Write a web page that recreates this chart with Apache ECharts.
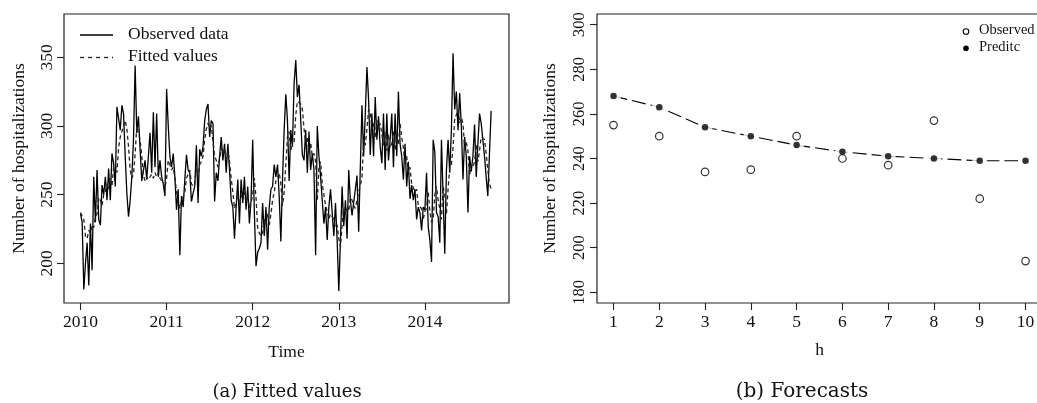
<!DOCTYPE html>
<html>
<head>
<meta charset="utf-8">
<script src="https://cdn.jsdelivr.net/npm/echarts@6/dist/echarts.min.js"></script>
<style>
html,body{margin:0;padding:0;background:#fff;}
#chart{width:1037px;height:403px;}
</style>
</head>
<body>
<div id="chart"></div>
<script>
// ---------- Panel (a): weekly data, 52 weeks per year starting 2010 ----------
const startYear = 2010;
const weeksPerYear = 52;
const obs2010 = [236,230,181,200,215,184,229,195,263,230,268,232,228,257,250,263,246,269,246,280,273,256,314,315,297,315,309,278,251,234,246,263,290,344,295,307,283,260,261,275,261,278,295,266,310,270,309,263,275,263,258,249];
const obs2011 = [327,300,278,270,280,263,239,254,206,249,241,261,279,268,266,245,251,256,286,244,283,278,285,304,312,316,292,304,302,245,266,260,278,292,275,287,266,287,268,246,241,218,241,261,229,261,244,263,239,256,229,246];
const obs2012 = [290,237,198,208,211,215,244,220,241,210,241,254,256,272,263,272,249,216,261,297,323,304,260,297,285,331,348,321,330,329,279,275,297,266,296,268,280,268,206,300,278,263,246,229,241,217,241,254,237,220,244,217];
const obs2013 = [180,217,256,227,246,218,268,246,235,235,254,264,223,270,315,278,309,343,319,279,309,278,321,290,307,285,273,309,268,309,275,290,309,270,309,278,325,287,278,261,287,256,274,247,257,246,254,232,241,237,224,241];
const obs2014 = [239,266,227,217,201,290,281,237,234,215,290,249,207,268,290,266,297,353,312,325,297,324,300,261,292,278,237,278,267,278,301,263,287,309,302,302,278,263,249,249,311];

const fit2010 = [237,236,232,220,218,224,222,228,226,234,236,248,246,242,250,252,258,254,262,256,270,272,266,284,292,292,300,304,298,285,268,262,265,280,300,295,290,278,264,260,263,261,262,265,262,266,263,266,262,262,258,255];
const fit2011 = [262,275,272,268,270,262,252,252,240,246,248,252,262,265,268,258,256,258,270,262,272,274,278,290,298,302,298,300,300,278,275,270,276,284,280,284,276,282,274,262,252,240,244,250,242,250,246,252,244,250,240,244];
const fit2012 = [250,262,248,226,222,220,222,232,228,236,228,236,246,252,260,262,266,258,242,252,272,292,296,282,290,288,308,318,318,316,312,298,288,292,280,288,278,280,274,246,270,274,258,250,242,238,232,236,236,232,226,228];
const fit2013 = [218,212,228,240,236,242,238,248,246,242,240,246,252,252,262,290,286,298,312,310,298,302,292,304,298,302,294,286,296,282,294,284,287,296,282,294,286,302,292,284,272,278,266,270,258,258,252,254,242,242,240,232];
const fit2014 = [238,240,252,238,230,232,250,256,246,240,232,256,250,236,254,270,272,284,306,308,312,302,306,302,284,288,282,264,272,270,274,286,274,282,292,292,290,280,268,258,254];

const yearTicksA = [2010,2011,2012,2013,2014];
const valueTicksA = [200,250,300,350];

// ---------- Panel (b): forecasts ----------
const horizons = [1,2,3,4,5,6,7,8,9,10];
const observedB = [255,250,234,235,250,240,237,257,222,194];
const predictedB = [268,263,254,250,246,243,241,240,239,239];
const valueTicksB = [180,200,220,240,260,280,300];

// ---------- build ----------
const obsAll = [].concat(obs2010, obs2011, obs2012, obs2013, obs2014);
const fitAll = [].concat(fit2010, fit2011, fit2012, fit2013, fit2014);
const obsData = obsAll.map((v,i)=>[startYear + i/weeksPerYear, v]);
const fitData = fitAll.map((v,i)=>[startYear + i/weeksPerYear, v]);
const predData = horizons.map((h,i)=>[h, predictedB[i]]);
const obsBData = horizons.map((h,i)=>[h, observedB[i]]);

const SERIF = "'Liberation Serif', 'Times New Roman', serif";
const axisCol = '#222';
const lab = {fontFamily: SERIF, fontSize: 17.5, color: '#111'};

const chart = echarts.init(document.getElementById('chart'), null, {renderer:'canvas'});
chart.setOption({
  animation:false,
  backgroundColor:'#fff',
  grid:[
    {left:64, top:14, width:445, height:289, show:true, borderColor:axisCol, borderWidth:1.2, containLabel:false, outerBoundsMode:'none'},
    {left:597, top:14, width:445, height:289, show:true, borderColor:axisCol, borderWidth:1.2, containLabel:false, outerBoundsMode:'none'}
  ],
  xAxis:[
    {type:'value', gridIndex:0, min:2009.8084, max:2014.9768, name:'Time', nameLocation:'middle', nameGap:40,
     nameTextStyle:lab, axisLine:{show:false}, splitLine:{show:false},
     axisTick:{show:true, inside:false, length:7, lineStyle:{color:axisCol, width:1.1}, customValues:yearTicksA},
     axisLabel:Object.assign({margin:10, customValues:yearTicksA, formatter:v=>String(Math.round(v))}, lab)},
    {type:'value', gridIndex:1, min:0.64, max:10.36, name:'h', nameLocation:'middle', nameGap:38,
     nameTextStyle:lab, axisLine:{show:false}, splitLine:{show:false},
     axisTick:{show:true, inside:false, length:7, lineStyle:{color:axisCol, width:1.1}, customValues:horizons},
     axisLabel:Object.assign({margin:10, customValues:horizons, formatter:v=>String(Math.round(v))}, lab)}
  ],
  yAxis:[
    {type:'value', gridIndex:0, min:171.2, max:381.5, name:'Number of hospitalizations', nameLocation:'middle', nameRotate:90, nameGap:36,
     nameTextStyle:lab, axisLine:{show:false}, splitLine:{show:false},
     axisTick:{show:true, inside:false, length:7, lineStyle:{color:axisCol, width:1.1}, customValues:valueTicksA},
     axisLabel:Object.assign({margin:8, rotate:90, customValues:valueTicksA, formatter:v=>String(Math.round(v))}, lab)},
    {type:'value', gridIndex:1, min:175.2, max:304.8, name:'Number of hospitalizations', nameLocation:'middle', nameRotate:90, nameGap:38,
     nameTextStyle:lab, axisLine:{show:false}, splitLine:{show:false},
     axisTick:{show:true, inside:false, length:7, lineStyle:{color:axisCol, width:1.1}, customValues:valueTicksB},
     axisLabel:Object.assign({margin:9, rotate:90, customValues:valueTicksB, formatter:v=>String(Math.round(v))}, lab, {fontSize:16.5})}
  ],
  series:[
    {type:'line', name:'Observed data', xAxisIndex:0, yAxisIndex:0, data:obsData, symbol:'none',
     lineStyle:{color:'#000', width:1.3}, z:3},
    {type:'line', name:'Fitted values', xAxisIndex:0, yAxisIndex:0, data:fitData, symbol:'none',
     lineStyle:{color:'#222', width:1.3, type:[4,3]}, z:4},
    {type:'line', name:'Preditc line', xAxisIndex:1, yAxisIndex:1, data:predData, symbol:'none',
     lineStyle:{color:'#000', width:1.1, type:[14,5]}, z:2},
    {type:'scatter', name:'gap', xAxisIndex:1, yAxisIndex:1, data:predData, symbol:'circle', symbolSize:15,
     itemStyle:{color:'#fff'}, z:3, silent:true},
    {type:'scatter', name:'Preditc', xAxisIndex:1, yAxisIndex:1, data:predData, symbol:'circle', symbolSize:6.5,
     itemStyle:{color:'#000'}, z:4},
    {type:'scatter', name:'Observed', xAxisIndex:1, yAxisIndex:1, data:obsBData, symbol:'circle', symbolSize:7.5,
     itemStyle:{color:'#fff', borderColor:'#000', borderWidth:1.2}, z:5}
  ],
  graphic:[
    {type:'line', shape:{x1:80, y1:35, x2:113, y2:35}, style:{stroke:'#000', lineWidth:1.3}},
    {type:'text', left:128, top:25, style:{text:'Observed data', font:"17.5px 'Liberation Serif'", fill:'#111'}},
    {type:'line', shape:{x1:80, y1:57.5, x2:113, y2:57.5}, style:{stroke:'#222', lineWidth:1.3, lineDash:[4,4]}},
    {type:'text', left:128, top:47.5, style:{text:'Fitted values', font:"17.5px 'Liberation Serif'", fill:'#111'}},
    {type:'circle', shape:{cx:966, cy:31.5, r:2.8}, style:{fill:'#fff', stroke:'#000', lineWidth:1.1}},
    {type:'text', left:979, top:23, style:{text:'Observed', font:"14.5px 'Liberation Serif'", fill:'#111'}},
    {type:'circle', shape:{cx:966, cy:48.3, r:2.8}, style:{fill:'#000'}},
    {type:'text', left:979, top:40, style:{text:'Preditc', font:"14.5px 'Liberation Serif'", fill:'#111'}},
    {type:'text', x:287, y:392, style:{text:'(a) Fitted values', font:"18px 'DejaVu Serif'", fill:'#111', align:'center', verticalAlign:'middle'}},
    {type:'text', x:802, y:392, style:{text:'(b) Forecasts', font:"20px 'DejaVu Serif'", fill:'#111', align:'center', verticalAlign:'middle'}}
  ]
});
</script>
</body>
</html>
